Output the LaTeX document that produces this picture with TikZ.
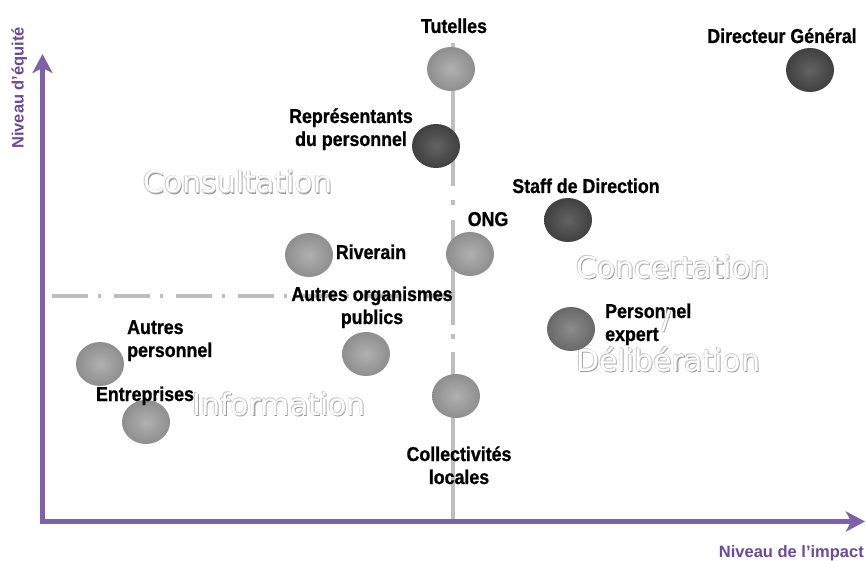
\documentclass[tikz,border=0pt]{standalone}
\usepackage{fontspec}
\setmainfont{Liberation Sans}
\newfontfamily\lblfont{Liberation Sans}[FakeStretch=0.89, BoldFeatures={FakeBold=0.8}]
\newfontfamily\regfont{DejaVu Sans}
\usetikzlibrary{shapes.geometric,arrows.meta}

\definecolor{axispurple}{HTML}{7D62A8}
\definecolor{axistext}{HTML}{6B4A9B}
\definecolor{guide}{HTML}{BEBEBE}
\definecolor{embshadow}{HTML}{9A9A9A}
\definecolor{embedge}{HTML}{C8C8C8}
\definecolor{lightIn}{HTML}{B0B0B0}
\definecolor{lightOut}{HTML}{8E8E8E}
\definecolor{midIn}{HTML}{8C8C8C}
\definecolor{midOut}{HTML}{686868}
\definecolor{darkIn}{HTML}{626262}
\definecolor{darkOut}{HTML}{404040}

% white lettering with a grey rim and a soft lower-right shadow
\newcommand\embtext[1]{%
  \rlap{\kern1.1pt\raisebox{-1.1pt}{\color{embshadow}#1}}%
  \rlap{\kern-0.6pt\raisebox{0.6pt}{\color{embedge}#1}}%
  \rlap{\kern0.7pt{\color{embedge}#1}}%
  \rlap{\raisebox{-0.7pt}{\color{embedge}#1}}%
  {\color{white}#1}}

\tikzset{
  sphere/.style={ellipse, inner sep=0pt, minimum width=48pt, minimum height=44pt},
  lightball/.style={sphere, inner color=lightIn, outer color=lightOut},
  midball/.style={sphere, inner color=midIn, outer color=midOut},
  darkball/.style={sphere, inner color=darkIn, outer color=darkOut},
  lbl/.style={font=\lblfont\bfseries\fontsize{20}{23}\selectfont, inner sep=0pt, text=black},
  region/.style={font=\regfont\fontsize{30}{36}\selectfont, inner sep=0pt, anchor=base west},
  axislbl/.style={font=\bfseries\fontsize{16.5}{20}\selectfont, inner sep=0pt, text=axistext},
}

\begin{document}
\begin{tikzpicture}[x=1pt, y=-1pt]
\useasboundingbox[fill=white] (0,0) rectangle (866,561);

% dash-dot guide lines splitting the plane
\draw[guide, line width=3.5pt]
  (453,43)--(453,186) (453,200)--(453,205) (453,220)--(453,325)
  (453,334)--(453,339) (453,352)--(453,520);
\draw[guide, line width=3.5pt, dash pattern=on 36pt off 10pt on 3pt off 13pt]
  (52,296)--(453,296);

% axes
\coordinate (ytop) at (42.5,54);
\coordinate (origin) at (42.5,521.5);
\coordinate (xend) at (865,521.5);
\draw[axispurple, line width=5pt, line join=miter,
  {Stealth[length=19pt,width=20pt,inset=5pt]}-{Stealth[length=19pt,width=20pt,inset=5pt]}]
  (ytop) -- (origin) -- (xend);

\node[axislbl, rotate=90, anchor=base west] (ylabel) at (23.5,149) {Niveau d’équité};
\node[axislbl, anchor=base east] (xlabel) at (864,557) {Niveau de l’impact};

% region names
\node[region] (rConsult) at (143,193) {\embtext{Consultation}};
\node[region] (rConcert) at (576,278) {\embtext{Concertation}};
\node[region] (rDelib) at (576,371) {\embtext{Délibération}};
\node[region] (rInfo) at (192,415) {\embtext{Information}};

% stakeholders
\node[lightball] (cTutelles) at (451,69) {};
\node[darkball] (cDG) at (810,70) {};
\node[darkball] (cRep) at (436,146) {};
\node[darkball] (cStaff) at (568,220) {};
\node[lightball] (cONG) at (470,254) {};
\node[lightball] (cRiv) at (309,255) {};
\node[lightball] (cAOP) at (366,354) {};
\node[lightball] (cAP) at (100,364) {};
\node[lightball] (cEnt) at (146,422) {};
\node[lightball] (cColl) at (456,396) {};
\node[midball] (cExp) at (571,329) {};

% stakeholder names (multi-line nodes sit on the baseline of their last line)
\node[lbl, anchor=base] (lTutelles) at (454,33) {Tutelles};
\node[lbl, anchor=base] (lDG) at (782,43) {Directeur Général};
\node[lbl, anchor=base, align=center] (lRep) at (351,146) {Représentants\\du personnel};
\node[lbl, anchor=base] (lStaff) at (586,193) {Staff de Direction};
\node[lbl, anchor=base] (lONG) at (488,226) {ONG};
\node[lbl, anchor=base] (lRiv) at (371,259) {Riverain};
\node[lbl, anchor=base, align=center] (lAOP) at (372,324) {Autres organismes\\publics};
\node[lbl, anchor=base west, align=left] (lAP) at (127,357) {Autres\\personnel};
\node[lbl, anchor=base] (lEnt) at (145,401) {Entreprises};
\node[lbl, anchor=base, align=center] (lColl) at (459,484) {Collectivités\\locales};
\node[lbl, anchor=base west, align=left] (lExp) at (605,341) {Personnel\\expert};

\node[font=\regfont\fontsize{26}{30}\selectfont, inner sep=0pt] (rSlash) at (666,321) {\embtext{/}};
\end{tikzpicture}
\end{document}
